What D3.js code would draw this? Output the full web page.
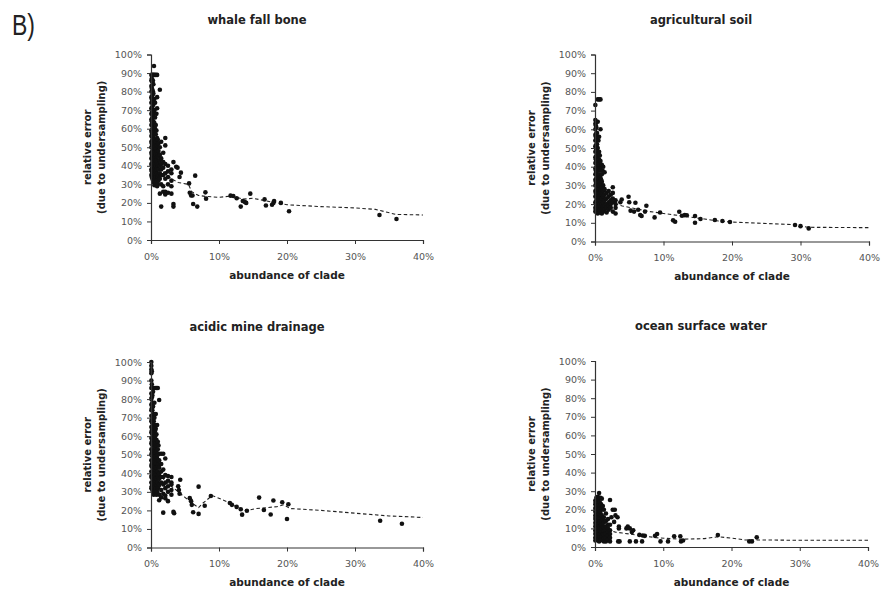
<!DOCTYPE html>
<html>
<head>
<meta charset="utf-8">
<script src="https://cdn.jsdelivr.net/npm/d3@7/dist/d3.min.js"></script>
<style>
  html, body { margin: 0; padding: 0; background: #fff; }
  svg { display: block; }
  .tick text { font-family: "DejaVu Sans", Verdana, sans-serif; font-size: 9.5px; fill: #555; }
</style>
</head>
<body>
<svg id="chart" width="883" height="590"></svg>
<script>
//
// Data (values in percent)
//

const titles = ["whale fall bone", "agricultural soil", "acidic mine drainage", "ocean surface water"];
const xTicks = [0, 10, 20, 30, 40];
const yTicks = [0, 10, 20, 30, 40, 50, 60, 70, 80, 90, 100];

// dense clusters near zero abundance: [x, [y, y, ...]]
const whaleCluster = [
  [0.05, [89, 86, 83, 80, 77, 74, 71, 68, 65, 62, 59, 56, 53, 50, 47, 44, 41, 38, 35]],
  [0.12, [87, 82, 76, 70, 64, 58, 52, 46, 40, 37, 34]],
  [0.2, [89, 85, 81, 78, 75, 72, 69, 66, 63, 60, 57, 54, 51, 48, 45, 42, 39, 36, 33]],
  [0.28, [86, 80, 74, 67, 61, 55, 49, 43, 38, 35]],
  [0.35, [89, 84, 79, 73, 68, 64, 60, 56, 52, 49, 46, 43, 40, 37, 34, 31]],
  [0.5, [89, 76, 70, 63, 58, 54, 50, 47, 44, 41, 38, 35, 32, 29.5]],
  [0.6, [74, 66, 60, 52, 45, 39, 36, 33]],
  [0.7, [89, 62, 57, 53, 49, 46, 43, 40, 37, 34, 30]],
  [0.8, [68, 59, 50, 44, 38, 31]],
  [0.9, [89, 77, 71, 55, 51, 48, 45, 42, 39, 36, 33, 29]],
  [1.0, [54, 46, 40, 34, 30]],
  [1.1, [52, 48, 45, 41, 38, 35, 32]],
  [1.3, [81, 50, 46, 43, 40, 36, 33, 25]],
  [1.5, [53, 44, 41, 38, 35, 30, 18]],
  [1.8, [47, 42, 39, 35, 29, 26]],
  [2.1, [55, 51, 41, 36, 33, 26, 24.5]],
  [2.5, [40, 37, 34, 30, 25.5]],
  [3.0, [38, 36, 32, 29, 25]]
];
const whaleOutliers = [
  [0.44, 93.8], [3.3, 42], [3.7, 39.5], [3.9, 39], [4.4, 36.3], [4.2, 34], [6.5, 34.7],
  [5.6, 30.5], [5.7, 25.5], [5.9, 24], [6.1, 24], [6.2, 19.4], [6.8, 18], [8.0, 25.7],
  [8.1, 22.3], [3.3, 19.4], [3.3, 18], [11.7, 23.9], [12.1, 23.7], [12.6, 22.5],
  [13.2, 18], [13.5, 21], [13.8, 20.5], [14.0, 20], [14.6, 25], [16.7, 21.9], [16.9, 18.6],
  [17.8, 19], [18.0, 20], [18.1, 21], [19.1, 20], [20.3, 15.5], [33.6, 13.5], [36.1, 11.3]
];
const whaleTrend = [
  [0.2, 55], [0.5, 48], [1, 42], [1.5, 38], [2, 36], [3, 33], [4, 31], [5.5, 30], [6, 26],
  [7, 24], [8, 23.5], [10, 23], [12, 23.8], [13.5, 22], [15, 22.5], [17, 21], [18.5, 20],
  [20, 19], [25, 18], [30, 17.3], [33, 16.5], [36, 13.8], [40, 13.5]
];

const soilCluster = [
  [0.05, [73, 65, 63, 60, 57, 54, 51, 48, 45, 42, 39, 36, 33, 30, 27, 24, 21, 18, 16]],
  [0.12, [62, 56, 50, 44, 38, 32, 26, 20, 17]],
  [0.2, [64, 61, 58, 55, 52, 49, 46, 43, 40, 37, 34, 31, 28, 25, 22, 19, 16]],
  [0.3, [58, 52, 45, 39, 33, 27, 21, 18]],
  [0.4, [76, 64, 56, 50, 46, 42, 38, 35, 32, 29, 26, 23, 20, 17, 15]],
  [0.5, [54, 47, 41, 34, 28, 22, 19, 16]],
  [0.6, [76, 56, 48, 44, 40, 36, 33, 30, 27, 24, 21, 18, 15.5]],
  [0.7, [46, 39, 32, 26, 20, 17]],
  [0.8, [76, 60, 43, 38, 34, 31, 28, 25, 22, 19, 16]],
  [0.9, [40, 33, 27, 21, 18]],
  [1.0, [41, 36, 32, 29, 26, 23, 20, 17, 15]],
  [1.1, [38, 25, 19, 16.5]],
  [1.2, [40, 30, 27, 24, 21, 18, 16]],
  [1.4, [37, 28, 25, 22, 19, 17]],
  [1.7, [26, 23, 20, 18, 15.5]],
  [2.0, [27, 24, 21, 19, 17]],
  [2.3, [25, 22, 20, 18]],
  [2.6, [29, 26, 23, 21, 16]],
  [3.0, [22, 20, 18, 15]]
];
const soilOutliers = [
  [3.9, 22.5], [3.7, 21], [4.9, 23.9], [5.0, 21], [5.9, 20.7], [5.2, 16.5], [5.7, 16],
  [6.3, 17], [6.6, 14.2], [6.8, 13.6], [7.3, 16], [7.5, 19.1], [8.7, 12.9], [9.5, 15.5],
  [11.4, 11.3], [11.7, 10.6], [12.3, 15.9], [12.7, 13.8], [13.1, 14.1], [13.4, 14],
  [14.6, 13.6], [14.6, 10], [15.4, 12], [17.5, 11.5], [18.6, 11], [19.7, 10.4],
  [29.2, 8.8], [30.0, 8.2], [31.2, 7.0]
];
const soilTrend = [
  [0.3, 28], [1, 24], [2, 21], [3, 20], [4, 19], [6, 17.5], [8, 16], [10, 15], [12, 14],
  [14, 13], [16, 12], [18, 11], [20, 10.4], [25, 9.6], [29, 9], [31, 7.6], [40, 7.4]
];

const acidCluster = [
  [0.05, [100, 98, 96, 94, 90, 86, 83, 80, 77, 74, 71, 68, 65, 62, 59, 56, 53, 50, 47, 44, 41, 38, 35, 32]],
  [0.12, [95, 88, 81, 75, 69, 63, 57, 51, 45, 39, 33]],
  [0.2, [86, 82, 78, 74, 70, 67, 64, 61, 58, 55, 52, 49, 46, 43, 40, 37, 34, 31]],
  [0.3, [84, 76, 69, 63, 57, 51, 45, 39, 33, 30]],
  [0.4, [86, 72, 68, 65, 62, 59, 56, 53, 50, 47, 44, 41, 38, 35, 32, 28.5]],
  [0.5, [78, 70, 64, 58, 52, 46, 40, 34, 31]],
  [0.6, [86, 66, 63, 60, 57, 54, 51, 48, 45, 42, 39, 36, 33, 30]],
  [0.7, [72, 64, 56, 49, 43, 37, 32]],
  [0.8, [86, 61, 58, 55, 52, 49, 46, 43, 40, 37, 34, 28.5]],
  [0.9, [66, 56, 48, 41, 35, 30]],
  [1.0, [86, 57, 53, 50, 47, 44, 41, 38, 35, 32]],
  [1.1, [55, 45, 39, 33]],
  [1.2, [79.5, 50.5, 47, 43, 40, 37, 34, 28.5, 25.5]],
  [1.5, [50.5, 45, 41, 38, 35, 31, 27]],
  [1.8, [50.5, 42, 38, 34, 29, 18.8]],
  [2.1, [48, 39, 35, 32, 28, 26.5]],
  [2.5, [38.5, 36, 33, 30, 25]],
  [3.0, [38, 35, 34, 31, 28.5]]
];
const acidOutliers = [
  [4.3, 36.5], [4.0, 33], [4.1, 31], [4.2, 29], [3.4, 18.5], [3.3, 19.2], [5.7, 26.6],
  [5.9, 25], [6.0, 23], [7.0, 32.8], [6.2, 19], [7.0, 18.1], [7.9, 22.5], [8.8, 27.8],
  [11.6, 24], [11.9, 23], [12.6, 21.9], [13.2, 20.6], [13.4, 17.7], [14.1, 19.8],
  [15.9, 26.9], [16.6, 20.2], [17.6, 17.8], [18.0, 25.3], [19.3, 24.4], [20.2, 23.3],
  [20.0, 15.4], [33.7, 14.4], [36.9, 12.8]
];
const acidTrend = [
  [0.3, 50], [1, 42], [2, 36], [3, 33], [4, 30], [5, 27], [6, 24], [7, 21.5], [7.5, 23.5],
  [9, 28], [11, 25], [12.5, 22], [14, 19.8], [15.5, 21], [17, 21.5], [18.5, 22], [19.5, 23],
  [20.5, 21], [25, 20], [30, 18.5], [35, 17], [40, 16.2]
];

const oceanCluster = [
  [0.05, [25, 23, 21, 19, 17, 15, 13, 11, 9, 7, 5, 3.5]],
  [0.12, [24, 20, 16, 12, 8, 5]],
  [0.2, [26.5, 24, 22, 20, 18, 16, 14, 12, 10, 8, 6, 4]],
  [0.3, [25, 21, 17, 13, 9, 5]],
  [0.4, [27, 24.5, 22, 19.5, 17, 14.5, 12, 10, 8, 6, 4]],
  [0.5, [25.5, 21, 16, 12, 7, 3.5]],
  [0.6, [29, 26.5, 23, 20, 17.5, 15, 13, 11, 9, 7, 5, 3]],
  [0.7, [24, 18, 14, 10, 6, 4]],
  [0.8, [26.5, 22, 19, 16, 13.5, 11, 9, 7, 5, 3.5]],
  [0.9, [23, 17, 12, 8, 4.5]],
  [1.0, [26, 21, 17, 14, 12, 10, 8, 6, 4]],
  [1.15, [22, 15, 11, 7, 4]],
  [1.3, [20, 16, 13, 10.5, 8.5, 6.5, 4.5, 3]],
  [1.6, [18, 14, 11, 9, 7, 5, 3]],
  [1.9, [15, 12, 10, 8, 6, 4]],
  [2.2, [25.3, 12, 9, 7, 5, 3]]
];
const oceanOutliers = [
  [2.6, 20], [2.9, 20], [2.4, 16], [3.0, 17], [3.3, 16], [2.8, 13.5], [3.5, 11], [3.5, 10],
  [3.4, 3], [3.6, 3], [4.6, 10], [4.8, 11], [5.1, 10], [5.4, 8], [5.6, 9], [5.1, 3],
  [6.0, 3], [6.9, 3], [6.5, 6.5], [7.0, 6.2], [7.3, 6], [8.8, 6], [9.1, 7], [9.6, 3],
  [10.7, 3], [11.6, 5.8], [12.5, 5.8], [12.6, 3], [12.9, 3.5], [18.0, 6.4], [22.6, 3],
  [23.0, 3], [23.7, 5.2]
];
const oceanTrend = [
  [0.3, 12], [1, 10], [2, 9], [3, 8], [4, 7.5], [5, 7], [7, 6], [9, 5], [11, 4.5], [13, 4.2],
  [16, 4.5], [18, 5.5], [20, 4.8], [22, 3.8], [24, 3.8], [30, 3.6], [40, 3.6]
];

//
// Configuration
//

const colorDot = "#111";
const colorAxis = "#333";
const colorTitle = "#222";
const colorTrend = "#222";
const dotRadius = 2.3;

// plot frames of the four panels
const frames = [
  { left: 151, right: 423, top: 54.5, bottom: 240 },
  { left: 595, right: 869, top: 54.5, bottom: 241.5 },
  { left: 151, right: 423, top: 362, bottom: 547.5 },
  { left: 595, right: 868, top: 361, bottom: 547 }
];

const panels = [
  { cluster: whaleCluster, outliers: whaleOutliers, trend: whaleTrend },
  { cluster: soilCluster, outliers: soilOutliers, trend: soilTrend },
  { cluster: acidCluster, outliers: acidOutliers, trend: acidTrend },
  { cluster: oceanCluster, outliers: oceanOutliers, trend: oceanTrend }
];

//
// Drawing
//

const svg = d3.select("#chart");

svg.append("text")
  .attr("x", 12)
  .attr("y", 35)
  .attr("textLength", 23)
  .attr("lengthAdjust", "spacingAndGlyphs")
  .style("font-family", "'Liberation Sans', Arial, sans-serif")
  .style("font-size", "29px")
  .style("fill", "#222")
  .text("B)");

function points(panel) {
  var pts = [];
  panel.cluster.forEach(function (col) {
    col[1].forEach(function (y) { pts.push([col[0], y]); });
  });
  return pts.concat(panel.outliers);
}

function drawPanel(panel, i) {
  const f = frames[i];
  const x = d3.scaleLinear().domain([0, 40]).range([f.left, f.right]);
  const y = d3.scaleLinear().domain([0, 100]).range([f.bottom, f.top]);
  const g = svg.append("g");

  // dashed trend line
  g.append("path")
    .datum(panel.trend)
    .attr("fill", "none")
    .attr("stroke", colorTrend)
    .attr("stroke-width", 1.1)
    .attr("stroke-dasharray", "3.5,2.5")
    .attr("d", d3.line().x(d => x(d[0])).y(d => y(d[1])));

  g.selectAll("circle")
    .data(points(panel))
    .join("circle")
    .attr("cx", d => x(d[0]))
    .attr("cy", d => y(d[1]))
    .attr("r", dotRadius)
    .attr("fill", colorDot);

  const xAxis = g.append("g")
    .attr("transform", "translate(0," + f.bottom + ")")
    .call(d3.axisBottom(x).tickValues(xTicks).tickFormat(d => d + "%").tickSize(4).tickPadding(9));
  const yAxis = g.append("g")
    .attr("transform", "translate(" + f.left + ",0)")
    .call(d3.axisLeft(y).tickValues(yTicks).tickFormat(d => d + "%").tickSize(4).tickPadding(5));
  [xAxis, yAxis].forEach(function (a) {
    a.select(".domain").attr("stroke", colorAxis).attr("stroke-width", 1.2);
    a.selectAll(".tick line").attr("stroke", colorAxis);
  });

  const bold = { "font-family": "'DejaVu Sans', Verdana, sans-serif", "font-weight": "bold", "fill": colorTitle };

  const title = g.append("text")
    .attr("x", f.left + 106)
    .attr("y", f.top - 31)
    .attr("text-anchor", "middle")
    .style("font-size", "11.5px")
    .text(titles[i]);

  const xTitle = g.append("text")
    .attr("x", (f.left + f.right) / 2)
    .attr("y", f.bottom + 38.5)
    .attr("text-anchor", "middle")
    .style("font-size", "10.5px")
    .text("abundance of clade");

  const yTitle = g.append("text")
    .attr("transform", "translate(" + (f.left - 60) + "," + (f.top + f.bottom) / 2 + ") rotate(-90)")
    .attr("text-anchor", "middle")
    .style("font-size", "10px");
  yTitle.append("tspan").attr("x", 0).attr("y", 0).text("relative error");
  yTitle.append("tspan").attr("x", 0).attr("y", 14).text("(due to undersampling)");

  [title, xTitle, yTitle].forEach(function (t) {
    Object.keys(bold).forEach(function (k) { t.style(k, bold[k]); });
  });
}

panels.forEach(drawPanel);
</script>
</body>
</html>
